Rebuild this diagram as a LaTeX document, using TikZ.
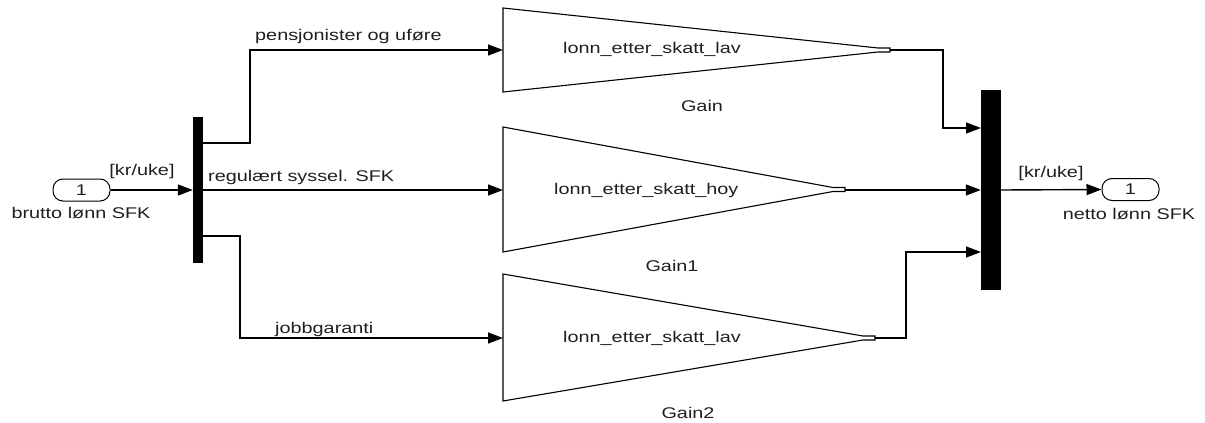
\documentclass[tikz,border=0pt]{standalone}
\usepackage{fontspec}
\newfontfamily\lblfont[FakeStretch=1.28]{Liberation Sans}
\usetikzlibrary{arrows.meta}

\begin{document}
\begin{tikzpicture}[x=1pt,y=-1pt,line join=miter,
  wire/.style={line width=1.4pt,-{Triangle[length=15pt,width=11pt]}},
  gainshape/.style={line width=1.1pt},
  port/.style={draw,line width=1pt,rounded corners=10pt,minimum width=57pt,minimum height=22pt,inner sep=0pt},
  busbar/.style={fill=black,draw=none,inner sep=0pt},
  txt/.style={font=\lblfont\fontsize{15.5}{18}\selectfont,text=black!88,inner sep=0pt,anchor=base}]

  % canvas
  \useasboundingbox (0,0) rectangle (1205,423);

  % ports and bus bars
  \node[port] (inport) at (81.5,190) {};
  \node[txt,anchor=center] (innum) at (inport.center) {1};
  \node[txt] (inname) at (81,218) {brutto lønn SFK};
  \node[busbar,minimum width=10pt,minimum height=146pt] (demux) at (198,190) {};
  \node[busbar,minimum width=20pt,minimum height=200pt] (mux) at (991,190) {};
  \node[port] (outport) at (1130.5,189.5) {};
  \node[txt,anchor=center] (outnum) at (outport.center) {1};
  \node[txt] (outname) at (1129,219) {netto lønn SFK};

  % bus tap points
  \coordinate (dA) at (203,143);
  \coordinate (dC) at (203,236);
  \coordinate (mA) at (981,128);
  \coordinate (mC) at (981,252);

  % gain blocks: left edge, top, bottom, middle, tip
  \draw[gainshape] (503,8) -- (878,48) -- (890,48) -- (890,52) -- (878,52) -- (503,92) -- cycle;
  \coordinate (g0in) at (503,50);
  \coordinate (g0out) at (890,50);
  \draw[gainshape] (503,127) -- (833,187.5) -- (845,187.5) -- (845,191.5) -- (833,191.5) -- (503,252) -- cycle;
  \coordinate (g1in) at (503,190);
  \coordinate (g1out) at (845,190);
  \draw[gainshape] (503,274) -- (863,336) -- (875,336) -- (875,340) -- (863,340) -- (503,401) -- cycle;
  \coordinate (g2in) at (503,338);
  \coordinate (g2out) at (875,338);

  % gain texts
  \node[txt,anchor=base west] (k0) at (563,53) {lonn\_etter\_skatt\_lav};
  \node[txt,anchor=base west] (k1) at (554,194) {lonn\_etter\_skatt\_hoy};
  \node[txt,anchor=base west] (k2) at (563,342) {lonn\_etter\_skatt\_lav};
  \node[txt] (n0) at (702,111) {Gain};
  \node[txt] (n1) at (672,271) {Gain1};
  \node[txt] (n2) at (688,418) {Gain2};

  % signals
  \draw[wire] (inport.east) -- (demux.west);
  \draw[wire] (dA) -- ++(47,0) |- (g0in);
  \draw[wire] (demux.east) -- (g1in);
  \draw[wire] (dC) -- ++(37,0) |- (g2in);
  \draw[wire] (g0out) -- (943,50) |- (mA);
  \draw[wire] (g1out) -- (mux.west);
  \draw[wire] (g2out) -- (906,338) |- (mC);
  \draw[wire] (mux.east) -- (outport.west);

  % signal labels
  \node[txt] (u1) at (142,175) {[kr/uke]};
  \node[txt] (u2) at (1051,177) {[kr/uke]};
  \node[txt,anchor=base west] (s0) at (255,40) {pensjonister og uføre};
  \node[txt,anchor=base west] (s1) at (208,181) {regulært syssel. SFK};
  \node[txt,anchor=base west] (s2) at (275,333) {jobbgaranti};
\end{tikzpicture}
\end{document}
